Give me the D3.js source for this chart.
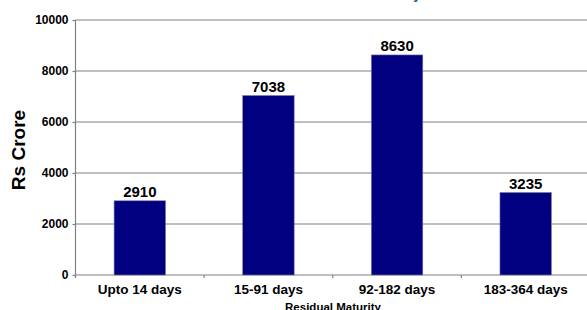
<!DOCTYPE html>
<meta charset="utf-8">
<script src="https://d3js.org/d3.v7.min.js"></script>
<style>
  body { margin: 0; background: #fff; }
  text { font-family: "Liberation Sans", Arial, sans-serif; font-weight: bold; fill: #000; }
</style>
<div id="chart"></div>
<script>

// data
var categories = ["Upto 14 days", "15-91 days", "92-182 days", "183-364 days"];
var amounts = [2910, 7038, 8630, 3235];
var yTicks = [0, 2000, 4000, 6000, 8000, 10000];

var w = 587, h = 310;
var margin = {top: 20, right: -3, bottom: 35, left: 75.5};
var width = w - margin.left - margin.right,
    height = h - margin.top - margin.bottom;

var svg = d3.select("#chart")
  .append("svg")
    .attr("width", w)
    .attr("height", h);

// title, mostly above the visible area
svg.append("text")
  .attr("x", 421)
  .attr("y", -1)
  .attr("text-anchor", "end")
  .style("font-size", "14px")
  .style("fill", "#1f5fa8")
  .text("Residual Maturity");

var g = svg.append("g")
  .attr("transform", "translate(" + margin.left + "," + margin.top + ")");

var x = d3.scaleBand()
  .domain(categories)
  .range([0, width])
  .paddingInner(0.6)
  .paddingOuter(0.3);

var y = d3.scaleLinear()
  .domain([0, 10000])
  .range([height, 0]);

// gridlines
g.selectAll(".grid")
  .data(yTicks.filter(function(d) { return d > 0; }))
  .enter()
  .append("line")
    .attr("x1", 0)
    .attr("x2", width)
    .attr("y1", function(d) { return y(d); })
    .attr("y2", function(d) { return y(d); })
    .attr("stroke", "#808080")
    .attr("stroke-width", 1.2);

// y axis
var yAxis = g.append("g")
  .call(d3.axisLeft(y).tickValues(yTicks).tickSize(3).tickPadding(4).tickFormat(d3.format("d")));
yAxis.selectAll("line, path").attr("stroke", "#808080").attr("stroke-width", 1.2);
yAxis.select(".domain").attr("d", "M0," + height + "V0");
yAxis.selectAll("text").style("font-size", "12px").attr("fill", "#000");

// x axis: ticks between categories
var xAxis = g.append("g")
  .attr("transform", "translate(0," + height + ")");
xAxis.append("line")
  .attr("x1", 0).attr("x2", width)
  .attr("stroke", "#808080").attr("stroke-width", 1.2);
xAxis.selectAll(".sep")
  .data(categories)
  .enter()
  .append("line")
    .attr("x1", function(d) { return x(d) - x.step() * 0.3; })
    .attr("x2", function(d) { return x(d) - x.step() * 0.3; })
    .attr("y1", 0).attr("y2", 3)
    .attr("stroke", "#808080").attr("stroke-width", 1.2);
xAxis.selectAll(".lbl")
  .data(categories)
  .enter()
  .append("text")
    .attr("x", function(d) { return x(d) + x.bandwidth() / 2; })
    .attr("y", 18.5)
    .attr("text-anchor", "middle")
    .style("font-size", "13.5px")
    .text(function(d) { return d; });

// bars
g.selectAll(".bar")
  .data(amounts)
  .enter()
  .append("rect")
    .attr("x", function(d, i) { return x(categories[i]); })
    .attr("width", x.bandwidth())
    .attr("y", function(d) { return y(d); })
    .attr("height", function(d) { return height - y(d); })
    .attr("fill", "#000080")
    .attr("stroke", "#7a7a9a")
    .attr("stroke-width", 0.6);

// value labels
g.selectAll(".val")
  .data(amounts)
  .enter()
  .append("text")
    .attr("x", function(d, i) { return x(categories[i]) + x.bandwidth() / 2; })
    .attr("y", function(d) { return y(d) - 4; })
    .attr("text-anchor", "middle")
    .style("font-size", "15px")
    .text(function(d) { return d; });

// axis titles
svg.append("text")
  .attr("transform", "translate(25,150) rotate(-90)")
  .attr("text-anchor", "middle")
  .style("font-size", "19px")
  .text("Rs Crore");

svg.append("text")
  .attr("x", 333)
  .attr("y", 310.5)
  .attr("text-anchor", "middle")
  .style("font-size", "11.5px")
  .text("Residual Maturity");

</script>
